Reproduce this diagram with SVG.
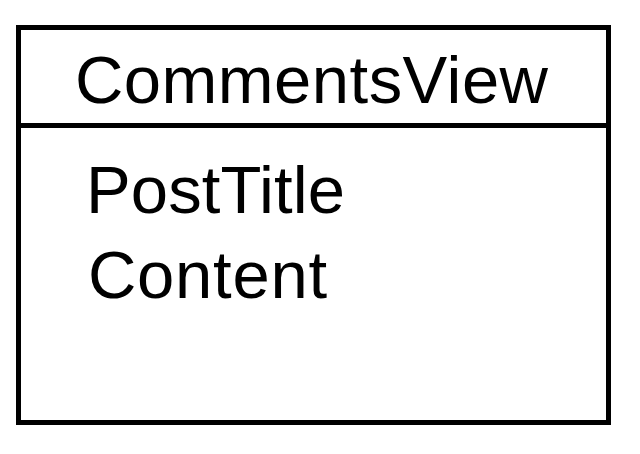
<svg xmlns="http://www.w3.org/2000/svg" width="640" height="454" viewBox="0 0 640 454">
  <style>
    .frame { fill: #ffffff; stroke: #000000; stroke-width: 5; }
    .label { font-family: "Liberation Sans", Arial, sans-serif; font-size: 67px; fill: #000000; }
  </style>
  <rect width="640" height="454" fill="#ffffff"/>
  <g id="CommentsView">
    <rect class="frame" x="18.5" y="27.5" width="590" height="395"/>
    <line x1="16" y1="125.5" x2="611" y2="125.5" stroke="#000000" stroke-width="5"/>
    <text class="label" x="75" y="103" textLength="473" lengthAdjust="spacing">CommentsView</text>
    <text class="label" x="86" y="213" textLength="259" lengthAdjust="spacing">PostTitle</text>
    <text class="label" x="88" y="298" textLength="239" lengthAdjust="spacing">Content</text>
  </g>
  <g id="connectors"/>
</svg>
